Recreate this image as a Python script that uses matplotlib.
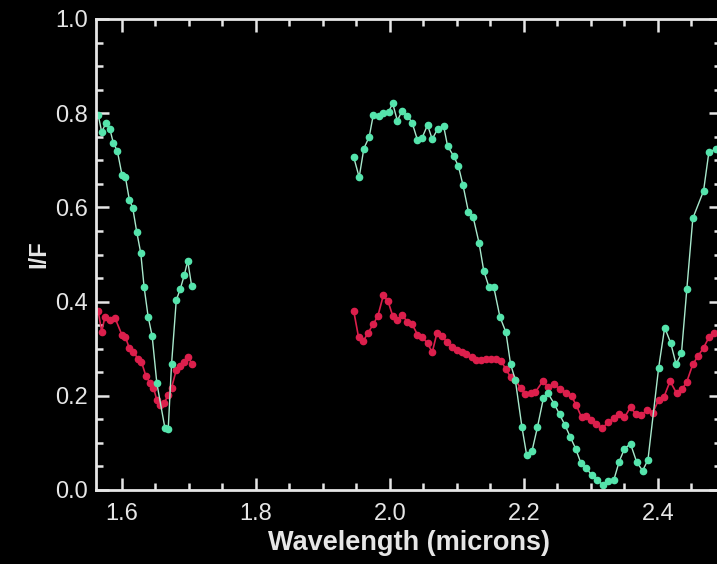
import matplotlib
matplotlib.use("Agg")
import matplotlib.pyplot as plt
from matplotlib.ticker import MultipleLocator

# green spectrum, two pieces (gap in the middle)
green_x1 = [1.5646, 1.5697, 1.576, 1.582, 1.587, 1.593, 1.600, 1.605, 1.611, 1.616,
            1.622, 1.628, 1.633, 1.639, 1.645, 1.652, 1.664, 1.669, 1.674, 1.681,
            1.687, 1.693, 1.698, 1.704]
green_y1 = [0.796, 0.760, 0.779, 0.766, 0.737, 0.720, 0.669, 0.665, 0.616, 0.599,
            0.548, 0.503, 0.431, 0.368, 0.327, 0.227, 0.132, 0.130, 0.268, 0.403,
            0.427, 0.456, 0.487, 0.433]
green_x2 = [1.946, 1.954, 1.961, 1.969, 1.975, 1.983, 1.990, 1.998, 2.004, 2.011,
            2.018, 2.026, 2.033, 2.041, 2.048, 2.056, 2.063, 2.071, 2.080, 2.086,
            2.095, 2.102, 2.109, 2.117, 2.124, 2.133, 2.140, 2.148, 2.155, 2.164,
            2.173, 2.180, 2.187, 2.197, 2.204, 2.212, 2.220, 2.229, 2.236, 2.245,
            2.253, 2.261, 2.269, 2.277, 2.285, 2.293, 2.301, 2.309, 2.318, 2.325,
            2.334, 2.342, 2.350, 2.359, 2.368, 2.377, 2.385, 2.401, 2.410, 2.419,
            2.427, 2.435, 2.443, 2.452, 2.468, 2.476, 2.486]
green_y2 = [0.706, 0.664, 0.725, 0.750, 0.796, 0.794, 0.801, 0.803, 0.821, 0.784,
            0.805, 0.794, 0.780, 0.743, 0.748, 0.775, 0.745, 0.766, 0.773, 0.730,
            0.709, 0.688, 0.647, 0.591, 0.580, 0.524, 0.465, 0.430, 0.430, 0.368,
            0.335, 0.267, 0.234, 0.133, 0.074, 0.083, 0.133, 0.195, 0.205, 0.183,
            0.161, 0.138, 0.113, 0.088, 0.057, 0.046, 0.032, 0.021, 0.011, 0.020,
            0.021, 0.060, 0.088, 0.098, 0.060, 0.041, 0.064, 0.260, 0.345, 0.312,
            0.267, 0.290, 0.426, 0.577, 0.635, 0.718, 0.723]

# red spectrum
red_x1 = [1.5646, 1.5697, 1.5746, 1.582, 1.5896, 1.600, 1.605, 1.611, 1.617, 1.624,
          1.629, 1.636, 1.642, 1.647, 1.652, 1.657, 1.663, 1.669, 1.674, 1.681,
          1.687, 1.693, 1.699, 1.704]
red_y1 = [0.379, 0.336, 0.368, 0.361, 0.365, 0.329, 0.325, 0.301, 0.294, 0.278,
          0.272, 0.241, 0.227, 0.217, 0.191, 0.180, 0.185, 0.202, 0.217, 0.255,
          0.263, 0.272, 0.283, 0.268]
red_x2 = [1.946, 1.953, 1.960, 1.967, 1.975, 1.982, 1.990, 1.997, 2.004, 2.011,
          2.018, 2.026, 2.033, 2.041, 2.048, 2.056, 2.063, 2.070, 2.078, 2.085,
          2.092, 2.100, 2.107, 2.114, 2.122, 2.129, 2.136, 2.144, 2.151, 2.158,
          2.166, 2.173, 2.180, 2.187, 2.195, 2.202, 2.210, 2.217, 2.228, 2.236,
          2.245, 2.254, 2.263, 2.271, 2.278, 2.286, 2.292, 2.300, 2.308, 2.317,
          2.326, 2.334, 2.342, 2.350, 2.359, 2.367, 2.375, 2.384, 2.392, 2.401,
          2.409, 2.418, 2.428, 2.436, 2.443, 2.452, 2.460, 2.468, 2.476, 2.484]
red_y2 = [0.379, 0.325, 0.316, 0.333, 0.352, 0.370, 0.413, 0.401, 0.370, 0.360,
          0.372, 0.357, 0.352, 0.330, 0.324, 0.312, 0.292, 0.333, 0.327, 0.314,
          0.303, 0.298, 0.294, 0.288, 0.282, 0.276, 0.276, 0.278, 0.278, 0.278,
          0.274, 0.256, 0.240, 0.234, 0.216, 0.203, 0.205, 0.208, 0.231, 0.218,
          0.224, 0.214, 0.207, 0.199, 0.180, 0.154, 0.158, 0.149, 0.141, 0.131,
          0.145, 0.152, 0.162, 0.154, 0.176, 0.161, 0.159, 0.170, 0.163, 0.192,
          0.198, 0.231, 0.205, 0.214, 0.230, 0.267, 0.285, 0.302, 0.324, 0.334]

green = '#55e4ac'
green_line = '#a8e8cc'
red = '#dc1f4c'
fg = '#e6e6e6'

plt.rcParams['font.family'] = ['Liberation Sans', 'DejaVu Sans']

fig = plt.figure(figsize=(7.17, 5.64), dpi=100, facecolor='black')
ax = fig.add_axes([96/717, 74/564, 625/717, 471/564], facecolor='black')

for xs, ys in [(red_x1, red_y1), (red_x2, red_y2)]:
    ax.plot(xs, ys, color=red, lw=1.2, marker='o', ms=4.5, mec=red, mfc=red)
for xs, ys in [(green_x1, green_y1), (green_x2, green_y2)]:
    ax.plot(xs, ys, color=green_line, lw=1.0, marker='o', ms=4.5, mec=green, mfc=green)

ax.set_xlim(1.5612, 1.5612 + 625/670)
ax.set_ylim(0, 1.0)
ax.xaxis.set_major_locator(MultipleLocator(0.2))
ax.xaxis.set_minor_locator(MultipleLocator(0.05))
ax.yaxis.set_major_locator(MultipleLocator(0.2))
ax.yaxis.set_minor_locator(MultipleLocator(0.05))
ax.xaxis.set_major_formatter(matplotlib.ticker.FormatStrFormatter('%.1f'))
ax.yaxis.set_major_formatter(matplotlib.ticker.FormatStrFormatter('%.1f'))

for s in ax.spines.values():
    s.set_color(fg)
    s.set_linewidth(2)
ax.tick_params(which='both', direction='in', top=True, right=True, colors=fg, width=1.8)
ax.tick_params(which='major', length=9, labelsize=17)
ax.tick_params(axis='x', which='major', pad=9)
ax.tick_params(axis='y', which='major', pad=6)
ax.tick_params(which='minor', length=5)

ax.set_xlabel('Wavelength (microns)', color=fg, fontsize=19.5, fontweight='bold', labelpad=4)
ax.set_ylabel('I/F', color=fg, fontsize=17, fontweight='bold', labelpad=3)

fig.savefig('out.png', dpi=100, facecolor='black')
